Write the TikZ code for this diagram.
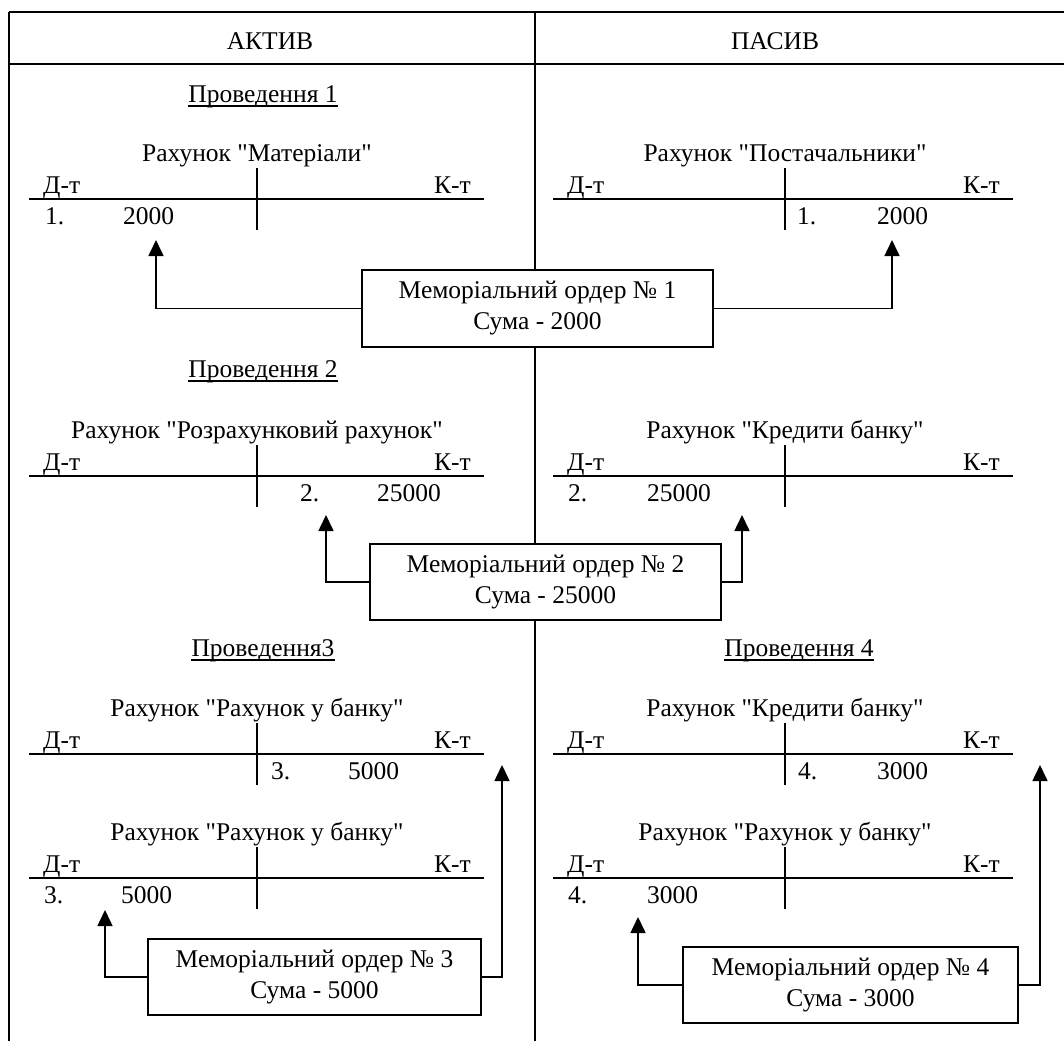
\documentclass[tikz,border=0pt]{standalone}
\usepackage{fontspec}
\setmainfont{Liberation Serif}[Ligatures=TeXOff]
\usetikzlibrary{arrows.meta}

% one T-account: #1 name, #2 left x, #3 middle x, #4 right x, #5 y of the rule, #6 title
\newcommand\TAcct[6]{%
  \node[txt,anchor=base] (#1-title) at (#3,#5-38) {#6};
  \node[txt,anchor=base west] (#1-dt) at (#2+14,#5-6) {Д-т};
  \node[txt,anchor=base east] (#1-kt) at (#4-13,#5-6) {К-т};
  \draw[tacc] (#2,#5) -- (#4,#5);
  \draw[tacc] (#3,#5-31) -- (#3,#5+31);
}
% underlined heading of a posting
\newcommand\Posting[4]{%
  \node[txt,anchor=base] (#1) at (#2,#3) {#4};
  \draw[uline] ([yshift=-4pt]#1.base west) -- ([yshift=-4pt]#1.base east);
}

\begin{document}
\begin{tikzpicture}[x=1pt,y=-1pt,
  txt/.style={inner sep=0pt,font=\fontsize{25.5}{31}\selectfont},
  frame/.style={line width=2pt},
  tacc/.style={line width=2pt},
  uline/.style={line width=1.4pt},
  memo/.style={draw,line width=1.6pt,fill=white,inner sep=0pt,align=center,
               font=\fontsize{25.5}{31}\selectfont},
  conn/.style={line width=1.6pt,-{Triangle[width=15pt,length=16pt]}}]

\useasboundingbox (0,0) rectangle (1064,1041);

% table frame
\coordinate (ftl) at (9,12);
\coordinate (ftr) at (1064,12);
\coordinate (fhl) at (9,64);
\coordinate (fhr) at (1064,64);
\coordinate (fbl) at (9,1041);
\coordinate (fct) at (535,12);
\coordinate (fcb) at (535,1041);
\draw[frame] (ftl) -- (ftr);
\draw[frame] (fhl) -- (fhr);
\draw[frame] (ftl) -- (fbl);
\draw[frame] (fct) -- (fcb);

\node[txt,anchor=base] (hA) at (270,49) {АКТИВ};
\node[txt,anchor=base] (hP) at (775,49) {ПАСИВ};

% ---- posting 1
\Posting{p1}{263}{102}{Проведення 1}
\TAcct{t1a}{29}{257}{484}{199}{Рахунок "Матеріали"}
\node[txt,anchor=base west] (t1a-n) at (45,224) {1.};
\node[txt,anchor=base west] (t1a-s) at (123,224) {2000};
\TAcct{t1b}{553}{785}{1013}{199}{Рахунок "Постачальники"}
\node[txt,anchor=base west] (t1b-n) at (797,224) {1.};
\node[txt,anchor=base west] (t1b-s) at (877,224) {2000};

\node[memo,minimum width=351pt,minimum height=77pt] (memo1) at (537.5,308.5)
  {Меморіальний ордер №~1\\Сума - 2000};
\coordinate (a1l) at (156,240);
\coordinate (a1r) at (892,240);
\draw[conn] (memo1.west) -| (a1l);
\draw[conn] (memo1.east) -| (a1r);

% ---- posting 2
\Posting{p2}{263}{377}{Проведення 2}
\TAcct{t2a}{29}{257}{484}{476}{Рахунок "Розрахунковий рахунок"}
\node[txt,anchor=base west] (t2a-n) at (300,501) {2.};
\node[txt,anchor=base west] (t2a-s) at (377,501) {25000};
\TAcct{t2b}{553}{785}{1013}{476}{Рахунок "Кредити банку"}
\node[txt,anchor=base west] (t2b-n) at (568,501) {2.};
\node[txt,anchor=base west] (t2b-s) at (647,501) {25000};

\node[memo,minimum width=351pt,minimum height=76pt] (memo2) at (545.5,582)
  {Меморіальний ордер №~2\\Сума - 25000};
\coordinate (a2l) at (326,515);
\coordinate (a2r) at (742,515);
\draw[conn] (memo2.west) -| (a2l);
\draw[conn] (memo2.east) -| (a2r);

% ---- posting 3
\Posting{p3}{263}{656}{Проведення3}
\TAcct{t3a}{29}{257}{484}{754}{Рахунок "Рахунок у банку"}
\node[txt,anchor=base west] (t3a-n) at (271,779) {3.};
\node[txt,anchor=base west] (t3a-s) at (348,779) {5000};
\TAcct{t3b}{29}{257}{484}{878}{Рахунок "Рахунок у банку"}
\node[txt,anchor=base west] (t3b-n) at (44,903) {3.};
\node[txt,anchor=base west] (t3b-s) at (121,903) {5000};

\node[memo,minimum width=333pt,minimum height=76pt] (memo3) at (314.5,977)
  {Меморіальний ордер №~3\\Сума - 5000};
\coordinate (a3l) at (105,910);
\coordinate (a3r) at (502,765);
\draw[conn] (memo3.west) -| (a3l);
\draw[conn] (memo3.east) -| (a3r);

% ---- posting 4
\Posting{p4}{799}{656}{Проведення 4}
\TAcct{t4a}{553}{785}{1013}{754}{Рахунок "Кредити банку"}
\node[txt,anchor=base west] (t4a-n) at (798,779) {4.};
\node[txt,anchor=base west] (t4a-s) at (877,779) {3000};
\TAcct{t4b}{553}{785}{1013}{878}{Рахунок "Рахунок у банку"}
\node[txt,anchor=base west] (t4b-n) at (568,903) {4.};
\node[txt,anchor=base west] (t4b-s) at (647,903) {3000};

\node[memo,minimum width=335pt,minimum height=76pt] (memo4) at (850.5,985)
  {Меморіальний ордер №~4\\Сума - 3000};
\coordinate (a4l) at (638,917);
\coordinate (a4r) at (1040,765);
\draw[conn] (memo4.west) -| (a4l);
\draw[conn] (memo4.east) -| (a4r);

\end{tikzpicture}
\end{document}
